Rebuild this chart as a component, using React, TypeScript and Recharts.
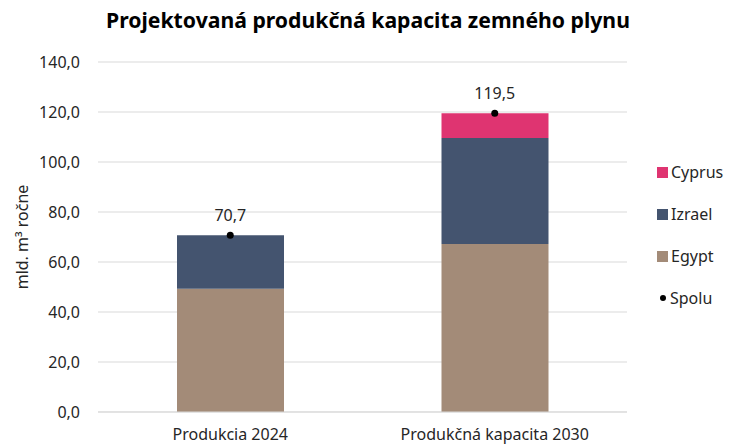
import { ComposedChart, Bar, Line, XAxis, YAxis, CartesianGrid, LabelList } from 'recharts';

const categories = ['Produkcia 2024', 'Produkčná kapacita 2030'];
const egypt = [49.3, 67.2];
const izrael = [21.4, 42.4];
const cyprus = [0, 9.9];
const spolu = [70.7, 119.5];
const yTicks = [0, 20, 40, 60, 80, 100, 120, 140];

const data = categories.map((name, i) => ({
  name,
  egypt: egypt[i],
  izrael: izrael[i],
  cyprus: cyprus[i],
  spolu: spolu[i],
}));

const FONT = '"Noto Sans", sans-serif';
const TEXT = '#262626';

const legendItems = [
  { label: 'Cyprus', color: '#DF3471', dot: false },
  { label: 'Izrael', color: '#44546F', dot: false },
  { label: 'Egypt', color: '#A38B78', dot: false },
  { label: 'Spolu', color: '#000000', dot: true },
];

function fmt(v: number): string {
  return v.toFixed(1).replace('.', ',');
}

function LegendBox() {
  return (
    <div
      style={{
        position: 'absolute',
        left: 657,
        top: 151,
        fontFamily: FONT,
        fontSize: 16,
        color: TEXT,
      }}
    >
      {legendItems.map((it) => (
        <div key={it.label} style={{ display: 'flex', alignItems: 'center', height: 42 }}>
          <span
            style={{
              display: 'inline-block',
              width: it.dot ? 6 : 11,
              height: it.dot ? 6 : 11,
              borderRadius: it.dot ? 3 : 0,
              background: it.color,
              marginRight: it.dot ? 4 : 3,
              marginLeft: it.dot ? 3 : 0,
            }}
          />
          {it.label}
        </div>
      ))}
    </div>
  );
}

export default function App() {
  return (
    <div style={{ position: 'fixed', left: 0, top: 0, width: 731, height: 446, background: '#fff' }}>
      <div
        style={{
          position: 'absolute',
          left: 0,
          width: 736,
          top: 5,
          textAlign: 'center',
          fontFamily: FONT,
          fontWeight: 700,
          fontSize: 21.2,
          color: '#000',
        }}
      >
        Projektovaná produkčná kapacita zemného plynu
      </div>
      <LegendBox />
      <ComposedChart
        width={731}
        height={446}
        data={data}
        margin={{ top: 62, right: 104, left: 0, bottom: 4 }}
        style={{ fontFamily: FONT }}
      >
        <CartesianGrid vertical={false} stroke="#d9d9d9" />
        <XAxis
          dataKey="name"
          height={30}
          axisLine={{ stroke: '#d9d9d9' }}
          tickLine={false}
          tick={{ fontSize: 16, fill: TEXT }}
          tickMargin={11}
        />
        <YAxis
          width={98}
          domain={[0, 140]}
          ticks={yTicks}
          tickFormatter={fmt}
          axisLine={false}
          tickLine={false}
          tickMargin={12}
          tick={{ fontSize: 16, fill: TEXT }}
          label={{
            value: 'mld. m³ ročne',
            angle: -90,
            position: 'insideLeft',
            offset: 22,
            style: { textAnchor: 'middle', fontSize: 16, fill: TEXT },
          }}
        />
        <Bar dataKey="egypt" stackId="a" fill="#A38B78" barSize={107} isAnimationActive={false} />
        <Bar dataKey="izrael" stackId="a" fill="#44546F" barSize={107} isAnimationActive={false} />
        <Bar dataKey="cyprus" stackId="a" fill="#DF3471" barSize={107} isAnimationActive={false} />
        <Line
          dataKey="spolu"
          stroke="none"
          dot={{ r: 3.5, fill: '#000', stroke: '#000', strokeWidth: 0 }}
          activeDot={false}
          isAnimationActive={false}
        >
          <LabelList
            dataKey="spolu"
            position="top"
            offset={14}
            formatter={(v: number) => fmt(v)}
            style={{ fontSize: 16, fill: TEXT }}
          />
        </Line>
      </ComposedChart>
    </div>
  );
}
